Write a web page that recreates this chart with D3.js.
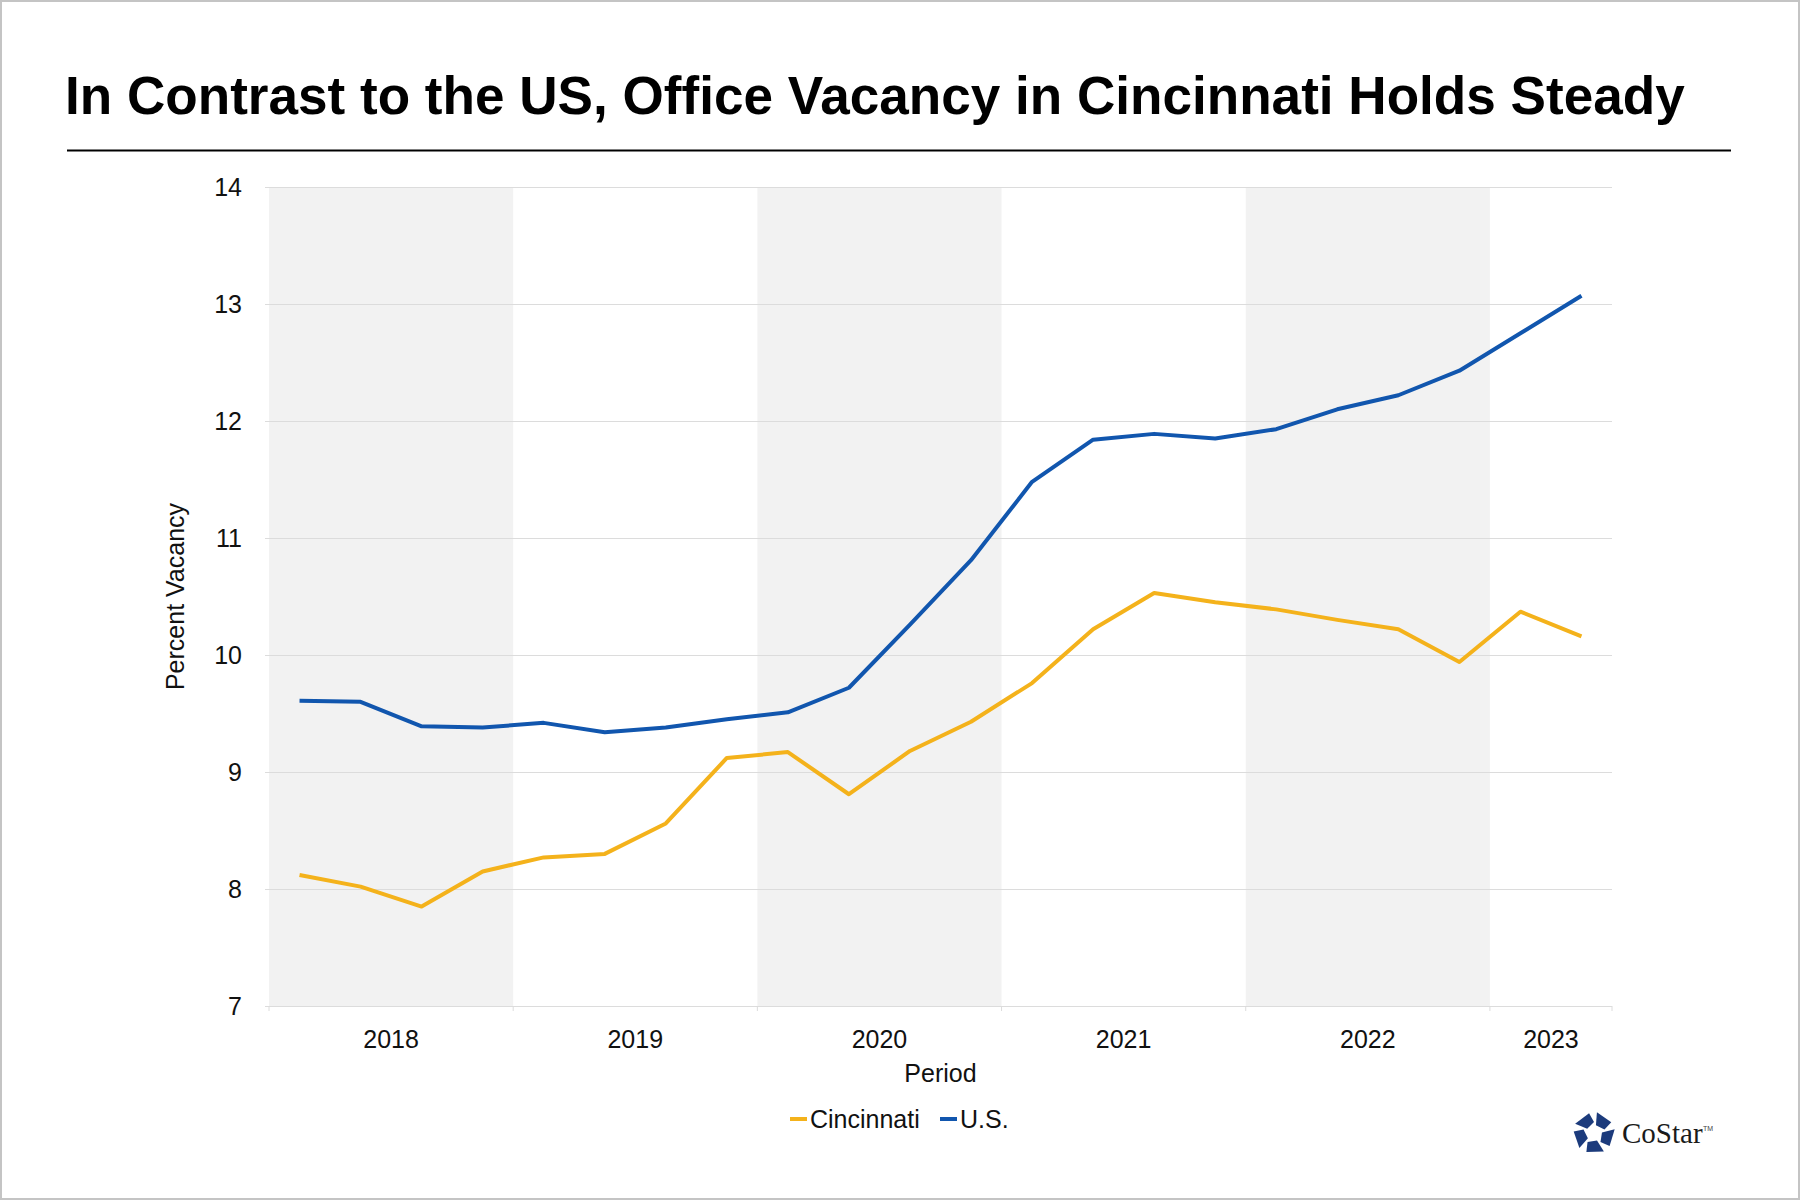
<!DOCTYPE html>
<meta charset="utf-8">
<style>
body { margin: 0; background: #fff; }
text { font-family: Arial, 'Liberation Sans', sans-serif; }
</style>
<script src="https://d3js.org/d3.v7.min.js"></script>
<div id="my_dataviz"></div>
<script>

    // quarters shown on the chart (2018 Q1 .. 2023 Q2)
    var quarters = ["2018Q1","2018Q2","2018Q3","2018Q4",
                    "2019Q1","2019Q2","2019Q3","2019Q4",
                    "2020Q1","2020Q2","2020Q3","2020Q4",
                    "2021Q1","2021Q2","2021Q3","2021Q4",
                    "2022Q1","2022Q2","2022Q3","2022Q4",
                    "2023Q1","2023Q2"];

    var cincinnati = [8.12, 8.02, 7.85, 8.15, 8.27, 8.30, 8.56, 9.12,
                      9.17, 8.81, 9.18, 9.43, 9.76, 10.22, 10.53, 10.45,
                      10.39, 10.30, 10.22, 9.94, 10.37, 10.16];

    var us = [9.61, 9.60, 9.39, 9.38, 9.42, 9.34, 9.38, 9.45,
              9.51, 9.72, 10.26, 10.81, 11.48, 11.84, 11.89, 11.85,
              11.93, 12.10, 12.22, 12.43, 12.75, 13.07];

    var years = ["2018","2019","2020","2021","2022","2023"];
    var yTicks = [7, 8, 9, 10, 11, 12, 13, 14];

    var W = 1800, H = 1200;
    var pLeft = 269, pRight = 1612, pTop = 187, pBottom = 1006;

    var svg = d3.select("#my_dataviz")
      .append("svg")
        .attr("width", W)
        .attr("height", H);

    // frame
    svg.append("rect")
      .attr("x", 1).attr("y", 1)
      .attr("width", W - 2).attr("height", H - 2)
      .attr("fill", "#fff")
      .attr("stroke", "#c4c4c4")
      .attr("stroke-width", 2);

    // title + rule
    svg.append("text")
      .attr("x", 65)
      .attr("y", 114)
      .style("font-size", "53.1px")
      .style("font-weight", "bold")
      .attr("fill", "#000")
      .text("In Contrast to the US, Office Vacancy in Cincinnati Holds Steady");

    svg.append("line")
      .attr("x1", 67).attr("x2", 1731)
      .attr("y1", 150.5).attr("y2", 150.5)
      .attr("stroke", "#000")
      .attr("stroke-width", 2);

    var x = d3.scaleBand()
      .domain(quarters)
      .range([pLeft, pRight])
      .padding(0);

    var y = d3.scaleLinear()
      .domain([7, 14])
      .range([pBottom, pTop]);

    function cx(q) { return x(q) + x.bandwidth() / 2; }

    // alternating year bands
    var yearInfo = years.map(function (yr, i) {
      var qs = quarters.filter(function (q) { return q.slice(0, 4) === yr; });
      return {
        year: yr,
        idx: i,
        x0: x(qs[0]),
        x1: x(qs[qs.length - 1]) + x.bandwidth()
      };
    });

    svg.append("g")
      .selectAll("rect")
      .data(yearInfo.filter(function (d) { return d.idx % 2 === 0; }))
      .enter()
      .append("rect")
        .attr("x", function (d) { return d.x0; })
        .attr("y", pTop)
        .attr("width", function (d) { return d.x1 - d.x0; })
        .attr("height", pBottom - pTop)
        .attr("fill", "#f2f2f2");

    // gridlines + y labels
    var yAxis = svg.append("g")
      .attr("transform", "translate(" + pLeft + ",0)")
      .call(d3.axisLeft(y)
        .tickValues(yTicks)
        .tickFormat(d3.format("d"))
        .tickSize(-(pRight - pLeft))
        .tickPadding(27));
    yAxis.select(".domain").remove();
    yAxis.selectAll(".tick line")
      .attr("stroke", "#dcdcdc");
    yAxis.selectAll(".tick")
      .append("line")
      .attr("x1", 0).attr("x2", -4)
      .attr("stroke", "#dcdcdc");
    yAxis.selectAll(".tick text")
      .style("font-size", "25px")
      .style("font-family", "Arial, 'Liberation Sans', sans-serif")
      .attr("fill", "#111");

    // x axis: boundary ticks and year labels
    var boundaries = yearInfo.map(function (d) { return d.x0; });
    boundaries.push(pRight);
    svg.append("g")
      .selectAll("line")
      .data(boundaries)
      .enter()
      .append("line")
        .attr("x1", function (d) { return d; })
        .attr("x2", function (d) { return d; })
        .attr("y1", pBottom)
        .attr("y2", pBottom + 5)
        .attr("stroke", "#dcdcdc");

    svg.append("g")
      .selectAll("text")
      .data(yearInfo)
      .enter()
      .append("text")
        .attr("x", function (d) { return (d.x0 + d.x1) / 2; })
        .attr("y", 1048)
        .attr("text-anchor", "middle")
        .style("font-size", "25px")
        .attr("fill", "#111")
        .text(function (d) { return d.year; });

    // axis titles
    svg.append("text")
      .attr("x", (pLeft + pRight) / 2)
      .attr("y", 1082)
      .attr("text-anchor", "middle")
      .style("font-size", "25px")
      .attr("fill", "#111")
      .text("Period");

    svg.append("text")
      .attr("transform", "translate(184," + ((pTop + pBottom) / 2) + ")rotate(-90)")
      .attr("text-anchor", "middle")
      .style("font-size", "25px")
      .attr("fill", "#111")
      .text("Percent Vacancy");

    // lines
    var series = [
      {name: "Cincinnati", values: cincinnati, color: "#F4B21B"},
      {name: "U.S.", values: us, color: "#1156AE"}
    ];

    var line = d3.line()
      .x(function (d, i) { return cx(quarters[i]); })
      .y(function (d) { return y(d); });

    svg.append("g")
      .selectAll("path")
      .data(series)
      .enter()
      .append("path")
        .attr("d", function (d) { return line(d.values); })
        .attr("fill", "none")
        .attr("stroke", function (d) { return d.color; })
        .attr("stroke-width", 4)
        .attr("stroke-linejoin", "round");

    // legend
    var legendX = [790, 940];
    var lg = svg.append("g")
      .selectAll("g")
      .data(series)
      .enter()
      .append("g")
        .attr("transform", function (d, i) { return "translate(" + legendX[i] + ",1119)"; });
    lg.append("line")
      .attr("x1", 0).attr("x2", 17)
      .attr("stroke", function (d) { return d.color; })
      .attr("stroke-width", 4);
    lg.append("text")
      .attr("x", 20)
      .attr("y", 9)
      .style("font-size", "25px")
      .attr("fill", "#111")
      .text(function (d) { return d.name; });

    // CoStar logo
    var logo = svg.append("g").attr("transform", "translate(1594,1133)");
    var R = 21, r = 8;
    function pt(rad, deg) {
      var a = deg * Math.PI / 180;
      return [rad * Math.cos(a), rad * Math.sin(a)];
    }
    d3.range(5).forEach(function (k) {
      var a0 = -90 + 72 * k + 8, a1 = a0 + 50;
      var pts = [pt(R, a0), pt(R * 0.97, a1), pt(r + 3, a1 + 14), pt(r, a0 + 6)];
      logo.append("polygon")
        .attr("points", pts.map(function (p) { return p.join(","); }).join(" "))
        .attr("fill", "#1c3b7c");
    });
    svg.append("text")
      .attr("x", 1622)
      .attr("y", 1143)
      .style("font-family", "'Liberation Serif', 'DejaVu Serif', serif")
      .style("font-size", "29px")
      .attr("fill", "#1a1a1a")
      .text("CoStar");
    svg.append("text")
      .attr("x", 1703)
      .attr("y", 1131)
      .style("font-size", "7px")
      .attr("fill", "#444")
      .text("TM");

</script>
